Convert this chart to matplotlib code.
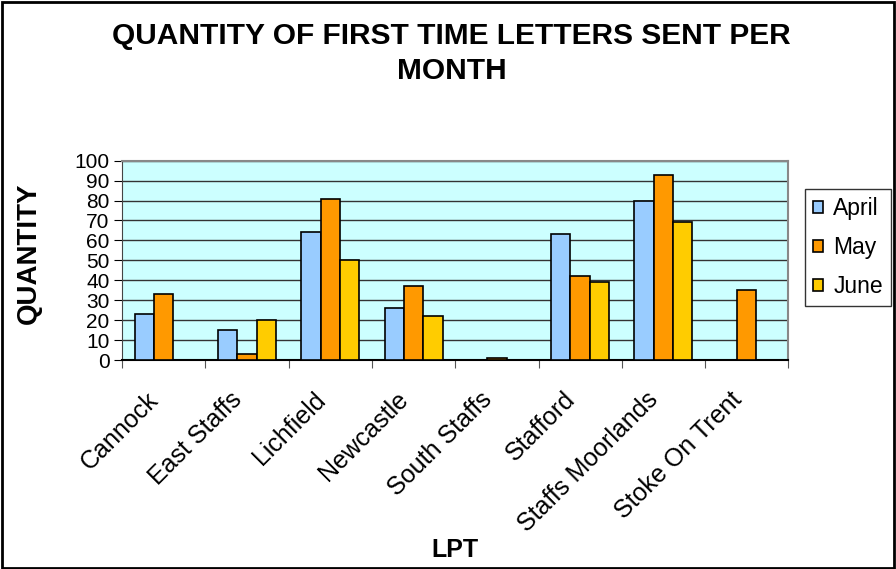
import numpy as np
import matplotlib.pyplot as plt
from matplotlib.patches import Rectangle
from matplotlib.transforms import ScaledTranslation

plt.rcParams['font.family'] = ['Liberation Sans', 'DejaVu Sans']

# data
lpt = ['Cannock', 'East Staffs', 'Lichfield', 'Newcastle', 'South Staffs',
       'Stafford', 'Staffs Moorlands', 'Stoke On Trent']
april = [23, 15, 64, 26, 0, 63, 80, 0]
may = [33, 3, 81, 37, 1, 42, 93, 35]
june = [0, 20, 50, 22, 0, 39, 69, 0]
months = ['April', 'May', 'June']
colors = ['#99CCFF', '#FF9900', '#FFCC00']

fig = plt.figure(figsize=(8.96, 5.69), dpi=100)
ax = fig.add_axes([0.1362, 0.3673, 0.7437, 0.3503])

x = np.arange(len(lpt)) + 0.5
w = 0.232
for k, (vals, name, col) in enumerate(zip([april, may, june], months, colors)):
    ax.bar(x + (k - 1) * w, vals, width=w, color=col, edgecolor='black',
           linewidth=1.2, label=name, zorder=3)

ax.set_facecolor('#CCFFFF')
ax.set_xlim(0, len(lpt))
ax.set_ylim(0, 100)
ax.set_yticks(np.arange(0, 101, 10))
ax.yaxis.grid(True, color='#333333', linewidth=1.0, zorder=1)
ax.set_axisbelow(True)

# ticks at category boundaries, labels at centres
ax.set_xticks(np.arange(len(lpt) + 1))
ax.set_xticklabels([])
ax.set_xticks(x, minor=True)
ax.set_xticklabels(lpt, minor=True, rotation=45, ha='right', va='center',
                   rotation_mode='anchor', fontsize=18)
ax.tick_params(axis='x', which='minor', length=0, pad=0)
ax.tick_params(axis='x', which='major', length=6, color='#555555', direction='out')
ax.tick_params(axis='y', length=6, direction='out', labelsize=15, pad=3)
shift = ScaledTranslation(-0.09, -0.36, fig.dpi_scale_trans)
for lab in ax.get_xticklabels(minor=True):
    lab.set_transform(lab.get_transform() + shift)

for s in ['top', 'right']:
    ax.spines[s].set_color('#888888')
    ax.spines[s].set_linewidth(1.5)
ax.spines['left'].set_color('#444444')
ax.spines['bottom'].set_color('black')
ax.spines['bottom'].set_linewidth(1.5)

ax.set_xlabel('LPT', fontsize=18, fontweight='bold')
ax.xaxis.set_label_coords(0.5, -0.895)
ax.set_ylabel('QUANTITY', fontsize=20, fontweight='bold')
ax.yaxis.set_label_coords(-0.12, 0.535)

fig.text(0.504, 0.906, 'QUANTITY OF FIRST TIME LETTERS SENT PER\nMONTH',
         ha='center', va='center', fontsize=21.5, fontweight='bold', linespacing=1.35)

leg = ax.legend(loc='center left', bbox_to_anchor=(1.0245, 0.565), fontsize=16.5,
                frameon=True, fancybox=False, edgecolor='black',
                handlelength=0.45, handleheight=0.45, handletextpad=0.45,
                borderpad=0.35, labelspacing=0.7, borderaxespad=0)
leg.get_frame().set_linewidth(1.0)

fig.patches.append(Rectangle((0.002, 0.002), 0.996, 0.994, transform=fig.transFigure,
                             fill=False, edgecolor='black', linewidth=2))

fig.savefig('out.png', dpi=100)
